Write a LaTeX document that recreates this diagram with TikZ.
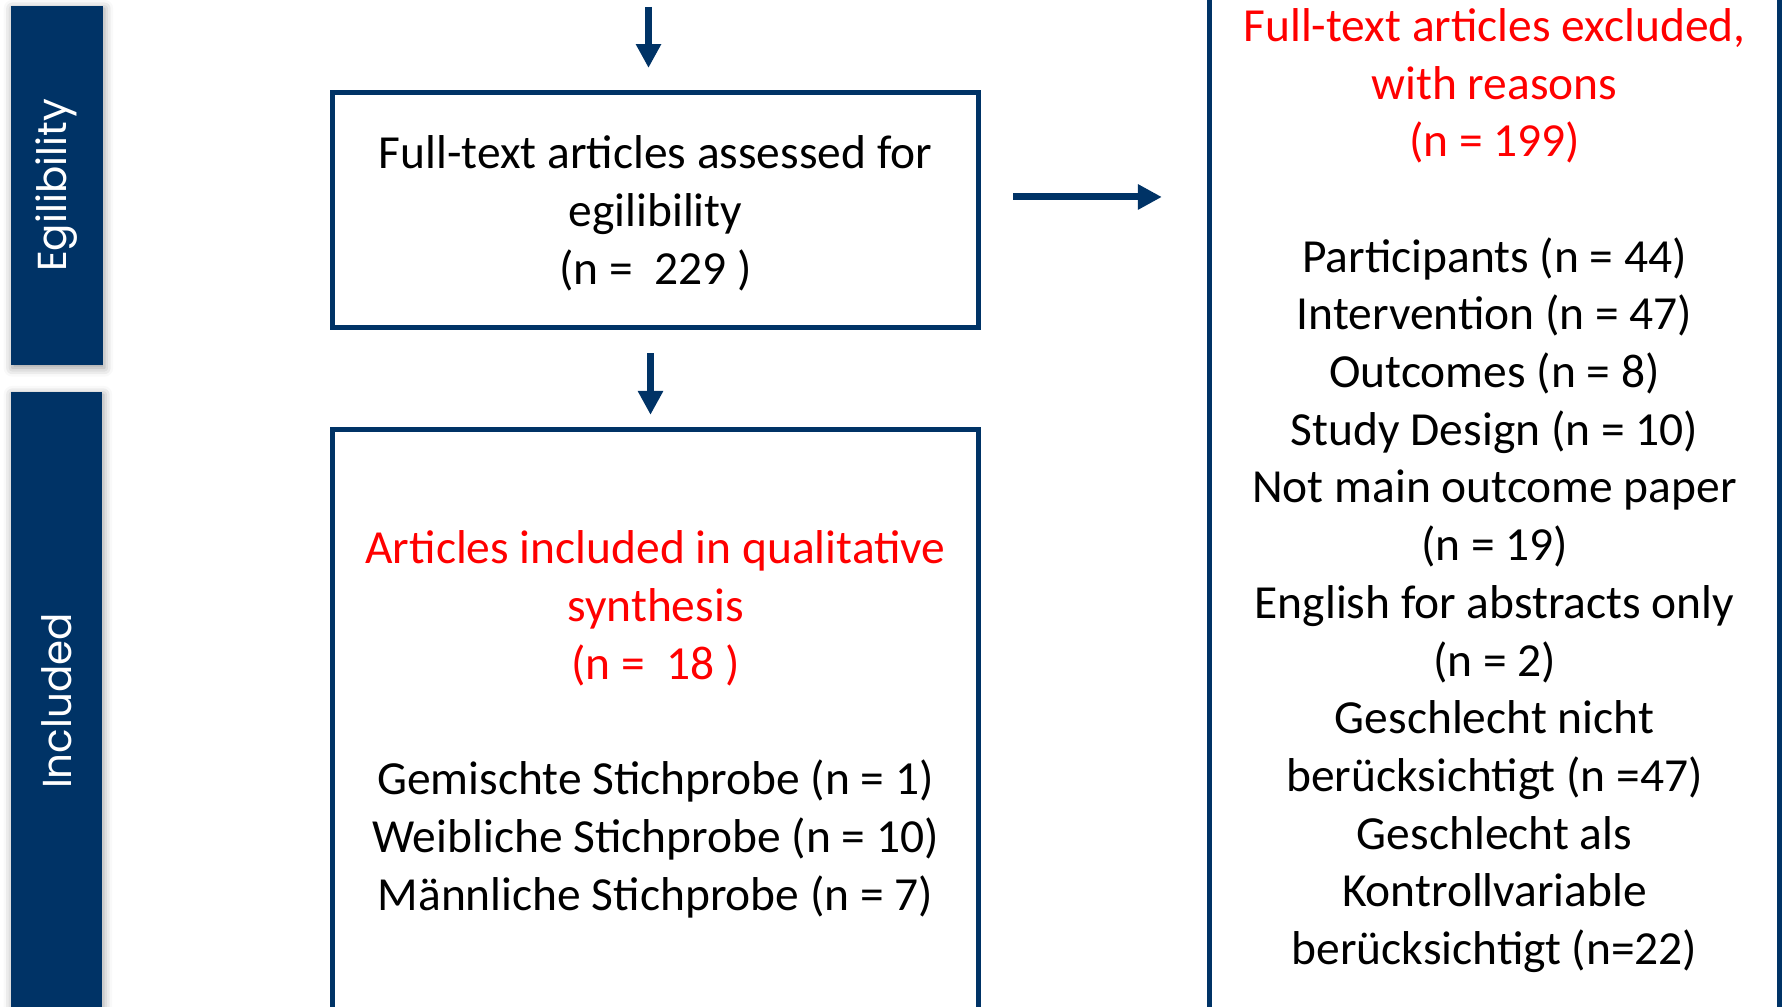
\documentclass[tikz,border=0pt]{standalone}
\usepackage{fontspec}
\setmainfont{Carlito}
\newfontfamily\barfont{Poppins}
\usepackage{xcolor}
\usepackage{graphicx}
\usepackage{tikz}
\usetikzlibrary{arrows.meta}
\usetikzlibrary{shadows.blur}
\definecolor{prismablue}{RGB}{0,51,102}
\definecolor{prismared}{RGB}{255,0,0}
\tikzset{>=latex}
\tikzstyle{phasebar} = [rectangle, fill=prismablue, draw=none, inner sep=0, text=white, font=\barfont\fontsize{11.5}{13}\selectfont, blur shadow={shadow xshift=0.4pt, shadow yshift=-0.8pt, shadow blur radius=2.5pt}]
\tikzstyle{stagebox} = [rectangle, draw=prismablue, line width=1.4pt, fill=white, inner sep=0, text depth=0pt, align=center, font=\fontsize{13.5}{16.4}\selectfont]
\tikzstyle{flow} = [-{Triangle[length=6.8pt,width=6.8pt]}, draw=prismablue, line width=2pt]

\begin{document}
\begin{tikzpicture}[x=0.01cm, y=-0.01cm]
\clip (0,0) rectangle (1789,1007);
\node [phasebar, minimum width=0.92cm, minimum height=3.59cm] (elig) at (57,185.5) {\rotatebox{90}{Egilibility}};
\node [phasebar, minimum width=0.91cm, minimum height=6.18cm] (incl) at (56.5,701) {\rotatebox{90}{Included}};

\node [stagebox, minimum width=6.46cm, minimum height=2.35cm] (assess) at (655.5,210)
  {Full-text articles assessed for\\ egilibility\\ (n =\ \ 229 )};
\node [stagebox, minimum width=6.46cm, minimum height=5.82cm] (included) at (655.5,720.5)
  {\textcolor{prismared}{Articles included in qualitative}\\ \textcolor{prismared}{synthesis}\\ \textcolor{prismared}{(n =\ \ 18 )}\\[16.4pt]
   Gemischte Stichprobe (n = 1)\\ Weibliche Stichprobe (n = 10)\\ Männliche Stichprobe (n = 7)};
\node [stagebox, minimum width=5.70cm, minimum height=10.6cm] (excl) at (1494.5,486.5)
  {\textcolor{prismared}{Full-text articles excluded,}\\ \textcolor{prismared}{with reasons}\\ \textcolor{prismared}{(n = 199)}\\[16.4pt]
   Participants (n = 44)\\ Intervention (n = 47)\\ Outcomes (n = 8)\\ Study Design (n = 10)\\
   Not main outcome paper\\ (n = 19)\\ English for abstracts only\\ (n = 2)\\
   Geschlecht nicht\\ berücksichtigt (n =47)\\ Geschlecht als\\ Kontrollvariable\\ berücksichtigt (n=22)};

\coordinate (inTop) at (648.5,7);
\draw [flow, shorten >=0.22cm] (inTop) -- (inTop |- assess.north);
\draw [flow, shorten <=0.23cm, shorten >=0.12cm] ([xshift=-0.05cm]assess.south) -- ([xshift=-0.05cm]included.north);
\draw [flow, shorten <=0.32cm, shorten >=0.45cm] ([yshift=0.13cm]assess.east) -- ([yshift=0.13cm]assess.east -| excl.west);
\end{tikzpicture}
\end{document}
